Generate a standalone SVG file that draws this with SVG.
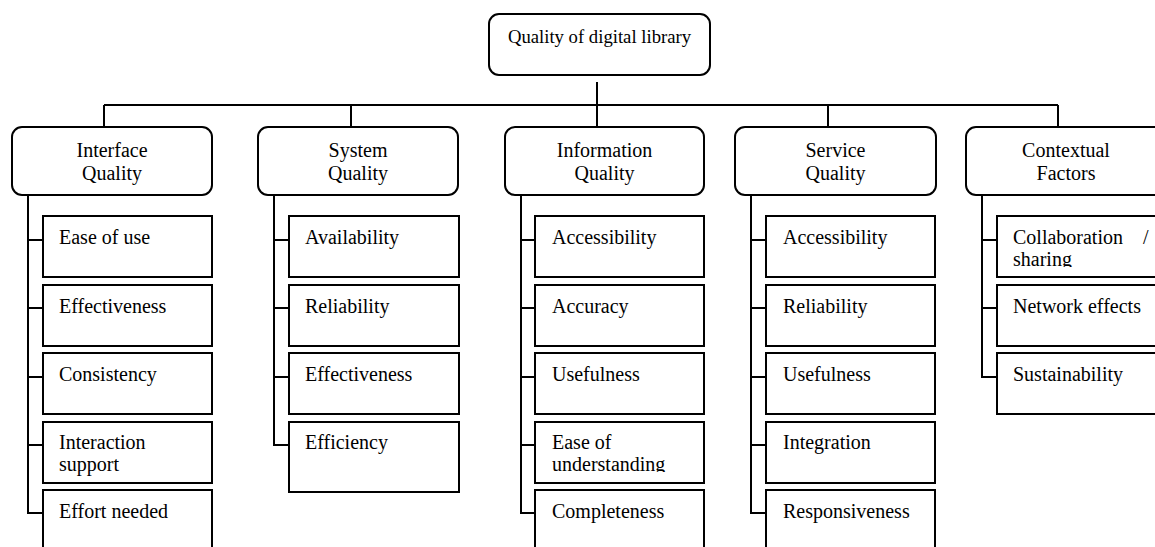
<svg xmlns="http://www.w3.org/2000/svg" width="1155" height="547" viewBox="0 0 1155 547">
  <style>
    .bg { fill: #ffffff; }
    .box { fill: #ffffff; stroke: #000000; stroke-width: 2; }
    .link { fill: none; stroke: #000000; stroke-width: 2; }
    text { font-family: "Liberation Serif", "Times New Roman", serif; font-size: 20px; fill: #000000; }
    .head { text-anchor: middle; }
    .root { font-size: 18.7px; text-anchor: middle; }
  </style>
  <defs>
    <clipPath id="clip-understanding"><rect x="535" y="422" width="169" height="50"/></clipPath>
    <clipPath id="clip-sharing"><rect x="997" y="216" width="160" height="51"/></clipPath>
  </defs>
  <rect class="bg" x="0" y="0" width="1155" height="547"/>

  <!-- connectors -->
  <g id="connectors">
    <path class="link" d="M597 82 V127"/>
    <path class="link" d="M104 105 H1058"/>
    <path class="link" d="M104 105 V127 M351 105 V127 M828 105 V127 M1058 105 V127"/>
    <!-- Interface trunk -->
    <path class="link" d="M28 195 V513 H43 M28 240 H43 M28 308 H43 M28 377 H43 M28 445 H43"/>
    <!-- System trunk -->
    <path class="link" d="M274 195 V445 H289 M274 240 H289 M274 308 H289 M274 377 H289"/>
    <!-- Information trunk -->
    <path class="link" d="M521 195 V513 H535 M521 240 H535 M521 308 H535 M521 377 H535 M521 445 H535"/>
    <!-- Service trunk -->
    <path class="link" d="M751 195 V513 H766 M751 240 H766 M751 308 H766 M751 377 H766 M751 445 H766"/>
    <!-- Contextual trunk -->
    <path class="link" d="M982 195 V377 H997 M982 240 H997 M982 308 H997"/>
  </g>

  <!-- root -->
  <g id="root">
    <rect class="box" x="489" y="14" width="221" height="61" rx="10"/>
    <text class="root" x="599.5" y="43">Quality of digital library</text>
  </g>

  <!-- dimension heads -->
  <g id="interface-quality">
    <rect class="box" x="12" y="127" width="200" height="68" rx="10"/>
    <text class="head" x="112" y="157">Interface</text>
    <text class="head" x="112" y="180">Quality</text>
  </g>
  <g id="system-quality">
    <rect class="box" x="258" y="127" width="200" height="68" rx="10"/>
    <text class="head" x="358" y="157">System</text>
    <text class="head" x="358" y="180">Quality</text>
  </g>
  <g id="information-quality">
    <rect class="box" x="505" y="127" width="199" height="68" rx="10"/>
    <text class="head" x="604.5" y="157">Information</text>
    <text class="head" x="604.5" y="180">Quality</text>
  </g>
  <g id="service-quality">
    <rect class="box" x="735" y="127" width="201" height="68" rx="10"/>
    <text class="head" x="835.5" y="157">Service</text>
    <text class="head" x="835.5" y="180">Quality</text>
  </g>
  <g id="contextual-factors">
    <rect class="box" x="966" y="127" width="200" height="68" rx="10"/>
    <text class="head" x="1066" y="157">Contextual</text>
    <text class="head" x="1066" y="180">Factors</text>
  </g>

  <!-- Interface Quality items -->
  <g id="if-ease"><rect class="box" x="43" y="216" width="169" height="61"/><text x="59" y="244">Ease of use</text></g>
  <g id="if-effectiveness"><rect class="box" x="43" y="285" width="169" height="61"/><text x="59" y="313">Effectiveness</text></g>
  <g id="if-consistency"><rect class="box" x="43" y="353" width="169" height="61"/><text x="59" y="381">Consistency</text></g>
  <g id="if-interaction"><rect class="box" x="43" y="422" width="169" height="61"/><text x="59" y="449">Interaction</text><text x="59" y="471">support</text></g>
  <g id="if-effort"><rect class="box" x="43" y="490" width="169" height="70"/><text x="59" y="518">Effort needed</text></g>

  <!-- System Quality items -->
  <g id="sys-availability"><rect class="box" x="289" y="216" width="170" height="61"/><text x="305" y="244">Availability</text></g>
  <g id="sys-reliability"><rect class="box" x="289" y="285" width="170" height="61"/><text x="305" y="313">Reliability</text></g>
  <g id="sys-effectiveness"><rect class="box" x="289" y="353" width="170" height="61"/><text x="305" y="381">Effectiveness</text></g>
  <g id="sys-efficiency"><rect class="box" x="289" y="422" width="170" height="70"/><text x="305" y="449">Efficiency</text></g>

  <!-- Information Quality items -->
  <g id="inf-accessibility"><rect class="box" x="535" y="216" width="169" height="61"/><text x="552" y="244">Accessibility</text></g>
  <g id="inf-accuracy"><rect class="box" x="535" y="285" width="169" height="61"/><text x="552" y="313">Accuracy</text></g>
  <g id="inf-usefulness"><rect class="box" x="535" y="353" width="169" height="61"/><text x="552" y="381">Usefulness</text></g>
  <g id="inf-understanding"><rect class="box" x="535" y="422" width="169" height="61"/><g clip-path="url(#clip-understanding)"><text x="552" y="449">Ease of</text><text x="552" y="471">understanding</text></g></g>
  <g id="inf-completeness"><rect class="box" x="535" y="490" width="169" height="70"/><text x="552" y="518">Completeness</text></g>

  <!-- Service Quality items -->
  <g id="svc-accessibility"><rect class="box" x="766" y="216" width="169" height="61"/><text x="783" y="244">Accessibility</text></g>
  <g id="svc-reliability"><rect class="box" x="766" y="285" width="169" height="61"/><text x="783" y="313">Reliability</text></g>
  <g id="svc-usefulness"><rect class="box" x="766" y="353" width="169" height="61"/><text x="783" y="381">Usefulness</text></g>
  <g id="svc-integration"><rect class="box" x="766" y="422" width="169" height="61"/><text x="783" y="449">Integration</text></g>
  <g id="svc-responsiveness"><rect class="box" x="766" y="490" width="169" height="70"/><text x="783" y="518">Responsiveness</text></g>

  <!-- Contextual Factors items -->
  <g id="ctx-collaboration"><rect class="box" x="997" y="216" width="170" height="61"/><g clip-path="url(#clip-sharing)"><text x="1013" y="244">Collaboration<tspan x="1143">/</tspan></text><text x="1013" y="266">sharing</text></g></g>
  <g id="ctx-network"><rect class="box" x="997" y="285" width="170" height="61"/><text x="1013" y="313">Network effects</text></g>
  <g id="ctx-sustainability"><rect class="box" x="997" y="353" width="170" height="61"/><text x="1013" y="381">Sustainability</text></g>
</svg>
